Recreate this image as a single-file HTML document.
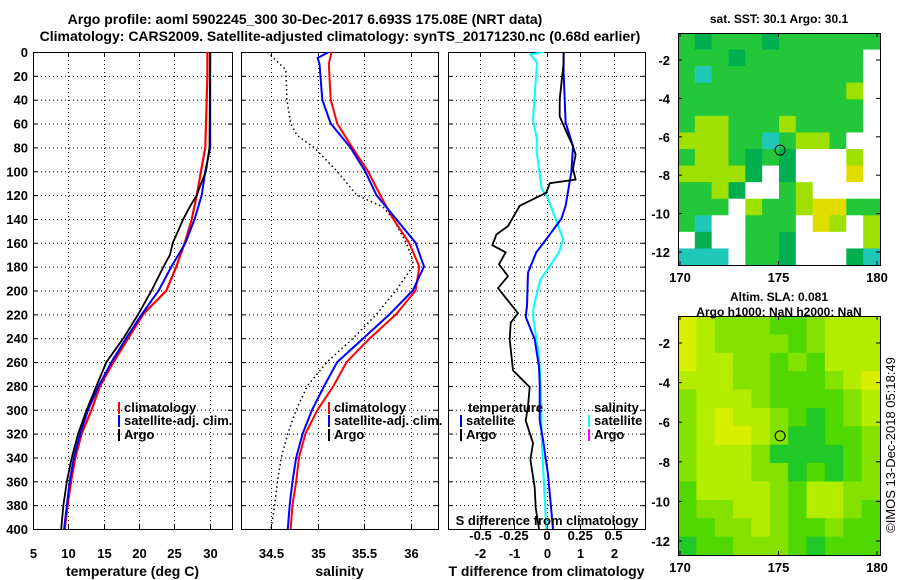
<!DOCTYPE html>
<html><head><meta charset="utf-8">
<style>
body{margin:0;background:#fff;}
svg{display:block;font-family:"Liberation Sans",Arial,sans-serif;font-weight:bold;}
</style></head>
<body>
<svg id="chart" width="900" height="580" viewBox="0 0 900 580">
<g id="layer"></g>
</svg>
<script>
// ---------- data ----------
const depths = [0,20,40,60,80,100,120,140,160,180,200,220,240,260,280,300,320,340,360,380,400];
const tempClim = [29.7,29.7,29.6,29.5,29.4,28.8,28.2,27.5,26.5,25.3,23.9,20.6,18.5,16.4,14.5,13.3,11.9,11.0,10.4,9.9,9.5];
const tempSat  = [30.1,30.1,30.1,30.1,30.1,29.4,28.9,27.9,26.6,24.6,22.8,20.4,18.2,16.1,14.3,12.8,11.7,10.8,10.2,9.8,9.4];
const tempArgoDepth = [0,80,100,112,120,130,140,160,170,180,200,220,240,260,280,300,320,340,360,380,400];
const tempArgo = [30.1,30.0,29.5,28.7,28.2,27.2,26.3,24.8,24.4,23.5,21.8,19.9,17.8,15.4,14.0,12.6,11.4,10.5,9.8,9.3,9.0];

const salClimDepth = [0,10,40,60,80,100,120,140,160,180,200,220,240,260,280,300,320,340,360,380,400];
const salClim = [35.15,35.12,35.14,35.21,35.37,35.54,35.67,35.81,35.98,36.09,36.05,35.84,35.56,35.31,35.17,35.0,34.87,34.80,34.77,34.73,34.71];
const salSatDepth = [0,5,10,40,60,80,100,120,140,160,180,200,220,240,260,280,300,320,340,360,380,400];
const salSat = [35.12,35.0,35.02,35.05,35.14,35.35,35.51,35.63,35.84,36.05,36.14,36.02,35.77,35.49,35.21,35.07,34.94,34.84,34.77,34.73,34.70,34.68];
const salArgoDepth = [0,15,40,60,70,80,100,120,130,140,160,175,180,200,220,240,260,280,300,320,340,360,380,400];
const salArgo = [34.46,34.66,34.67,34.71,34.78,34.96,35.21,35.42,35.70,35.81,35.95,36.02,36.02,35.84,35.63,35.38,35.10,34.89,34.77,34.68,34.61,34.57,34.54,34.50];

const dTArgoDepth = [0,9,40,54,70,79,86,98,107,110,118,129,146,153,162,168,178,188,198,219,227,241,267,281,297,309,328,342,365,382,400];
const dTArgo = [0.5,0.5,0.38,0.38,0.63,0.78,0.86,0.78,0.86,0.08,-0.02,-0.82,-1.17,-1.52,-1.64,-1.24,-1.44,-1.17,-1.47,-0.87,-1.09,-1.12,-1.02,-0.52,-0.57,-0.64,-0.42,-0.5,-0.37,-0.34,-0.24];
const dTSatDepth = [0,17,59,79,101,129,140,157,168,185,213,222,241,264,278,309,325,354,400];
const dTSat = [0.5,0.5,0.56,0.78,0.73,0.56,0.43,-0.02,-0.32,-0.57,-0.6,-0.64,-0.37,-0.24,-0.22,-0.22,-0.12,0.03,0.18];
const dSSatDepth = [0,2,9,57,73,82,115,121,143,157,168,191,213,222,255,283,325,400];
const dSSat = [-0.02,-0.125,-0.075,-0.105,-0.075,-0.08,-0.04,0,0.075,0.12,0.09,-0.05,-0.1,-0.105,-0.06,-0.045,-0.04,-0.005];

const depthTicks = [0,20,40,60,80,100,120,140,160,180,200,220,240,260,280,300,320,340,360,380,400];
const tempTicks = [5,10,15,20,25,30];
const salTicks = [34.5,35,35.5,36];
const dTTicks = [-2,-1,0,1,2];
const dSTicks = [-0.5,-0.25,0,0.25,0.5];
const latTicks = [-2,-4,-6,-8,-10,-12];
const lonTicks = [170,175,180];

const sstGrid = [
"gGgggGgggggg","gggGgggggggw","gcgggggggggw","ggggggggggyw","gggggggggggw",
"gyygggyggggw","yyyggcgyygww","gyygGgGwwwyw","yyyyGwGwwwYw","ggyGwwgywwww",
"gggwyggyYYgg","gcwwgggwYywy","wGwwggGwwwwy","cccwggGwwwGc"];
const slaGrid = [
"Yylllgglyyy","Yyllllglyyy","Yyyllglgyyy","yyyllggglyY","lyyylggggly","lyYyylgGgly",
"lyYYylGGggl","lyyylGGGGgl","lyyyllGgGgl","gyyyylgyyll","gllyylgyylg","ggllylgglgg","GgglllgGggg"];
const sstColors = {g:"#22c83a",G:"#00b050",y:"#9ee000",Y:"#e0dc00",w:"#ffffff",c:"#20c8b8"};
const slaColors = {Y:"#d8f000",y:"#b4ec00",l:"#84e200",g:"#50d800",G:"#20c828"};

// ---------- helpers ----------
const NS="http://www.w3.org/2000/svg";
const layer=document.getElementById('layer');
const FS=13;
function mk(tag,attrs,parent){const e=document.createElementNS(NS,tag);for(const k in attrs)e.setAttribute(k,attrs[k]);(parent||layer).appendChild(e);return e;}
function txt(x,y,s,anchor,size,parent){const t=mk('text',{x:x,y:y,'text-anchor':anchor||'middle','font-size':size||FS,fill:'#000'},parent);t.textContent=s;return t;}

const Y0=52,Y1=529;
const yD=d=>Y0+d*(Y1-Y0)/400;
const xT=v=>33+(v-5)*7.06;
const xS=v=>271+(v-34.5)*93.3;
const xDT=v=>547+v*33.3;
const xDS=v=>547+v*133;

function panel(name,x0,x1,xticks,xf,xlab,title){
  const g=mk('g',{});
  
  
  depthTicks.forEach(d=>{ if(d>0&&d<400) mk('line',{x1:x0,x2:x1,y1:yD(d)+0.5,y2:yD(d)+0.5,stroke:'#000','stroke-dasharray':'1,3','stroke-width':1},g);
    mk('line',{x1:x0,x2:x0+4,y1:yD(d)+0.5,y2:yD(d)+0.5,stroke:'#000'},g);
    mk('line',{x1:x1-4,x2:x1,y1:yD(d)+0.5,y2:yD(d)+0.5,stroke:'#000'},g);});
  xticks.forEach(v=>{const x=Math.round(xf(v))+0.5;
    mk('line',{x1:x,x2:x,y1:Y0,y2:Y1,stroke:'#000','stroke-dasharray':'1,3'},g);
    mk('line',{x1:x,x2:x,y1:Y1-4,y2:Y1,stroke:'#000'},g);
    mk('line',{x1:x,x2:x,y1:Y0,y2:Y0+4,stroke:'#000'},g);
    if(xlab) txt(x,558,String(v),'middle',FS,g);});
  mk('rect',{x:x0+0.5,y:Y0+0.5,width:x1-x0,height:Y1-Y0,fill:'none',stroke:'#000'},g);
  txt((x0+x1)/2,576,title,'middle',14,g);
  return g;
}
function line(g,ds,vs,xf,color,w,dash,name){
  const p=ds.map((d,i)=>xf(vs[i]).toFixed(1)+','+yD(d).toFixed(1)).join(' ');
  const l=mk('polyline',{points:p,fill:'none',stroke:color,'stroke-width':w});
  if(dash) l.setAttribute('stroke-dasharray',dash);
  
  
  g.appendChild(l);
}
function clipFor(id,x0,x1){const cp=mk('clipPath',{id:id});mk('rect',{x:x0,y:Y0,width:x1-x0,height:Y1-Y0},cp);}

const t1=txt(305,24,'Argo profile: aoml 5902245_300 30-Dec-2017 6.693S 175.08E (NRT data)','middle',14);


const t2=txt(340,41,'Climatology: CARS2009. Satellite-adjusted climatology: synTS_20171230.nc (0.68d earlier)','middle',14);



// panel 1
const p1=panel('temperature-panel',33,232,tempTicks,xT,true,'temperature (deg C)');
depthTicks.forEach(d=>txt(28,yD(d)+5,String(d),'end',FS,p1));
clipFor('c1',33,232);
const g1=mk('g',{'clip-path':'url(#c1)'},p1);
line(g1,depths,tempClim,xT,'#ff0000',2.2,null,'temp-climatology-line');
line(g1,depths,tempSat,xT,'#0000ff',2,null,'temp-satellite-line');
line(g1,tempArgoDepth,tempArgo,xT,'#000',1.8,null,'temp-argo-line');
function legend(g,x,y,color,label,name){
  const lg=mk('g',{},g);
  
  
  mk('rect',{x:x,y:y-10,width:2,height:12,fill:color},lg);
  txt(x+6,y,label,'start',FS,lg);
}
legend(p1,118,412,'#ff0000','climatology','legend-climatology');
legend(p1,118,425,'#0000ff','satellite-adj. clim.','legend-satellite-adj');
legend(p1,118,439,'#000','Argo','legend-argo');

// panel 2
const p2=panel('salinity-panel',241,438,salTicks,xS,true,'salinity');
clipFor('c2',241,438);
const g2=mk('g',{'clip-path':'url(#c2)'},p2);
line(g2,salArgoDepth,salArgo,xS,'#000',1.5,'1.5,3','sal-argo-line');
line(g2,salClimDepth,salClim,xS,'#ff0000',2,null,'sal-climatology-line');
line(g2,salSatDepth,salSat,xS,'#0000ff',2,null,'sal-satellite-line');
legend(p2,328,412,'#ff0000','climatology','legend-sal-climatology');
legend(p2,328,425,'#0000ff','satellite-adj. clim.','legend-sal-satellite-adj');
legend(p2,328,439,'#000','Argo','legend-sal-argo');

// panel 3
const p3=panel('difference-panel',448,645,dTTicks,xDT,true,'T difference from climatology');
clipFor('c3',448,645);
const g3=mk('g',{'clip-path':'url(#c3)'},p3);
line(g3,dSSatDepth,dSSat,xDS,'#00ffff',2,null,'sal-diff-satellite-line');
line(g3,dTSatDepth,dTSat,xDT,'#0000ff',2,null,'temp-diff-satellite-line');
line(g3,dTArgoDepth,dTArgo,xDT,'#000',1.8,null,'temp-diff-argo-line');
const st=txt(547,525,'S difference from climatology','middle',FS,p3);


dSTicks.forEach(v=>txt(xDS(v),540,String(v),'middle',FS,p3));
txt(468,412,'temperature','start',FS,p3);
txt(594,412,'salinity','start',FS,p3);
legend(p3,460,425,'#0000ff','satellite','legend-diff-temp-satellite');
legend(p3,460,439,'#000','Argo','legend-diff-temp-argo');
legend(p3,588,425,'#00ffff','satellite','legend-diff-sal-satellite');
legend(p3,588,439,'#ff00ff','Argo','legend-diff-sal-argo');

// maps
function map(name,x0,y0,x1,y1,grid,colors,titles,titleY,lat2y){
  const g=mk('g',{});
  
  
  const rows=grid.length,cols=grid[0].length;
  const cw=(x1-x0)/cols,ch=(y1-y0)/rows;
  grid.forEach((r,i)=>{for(let j=0;j<cols;j++){
    mk('rect',{x:(x0+j*cw).toFixed(2),y:(y0+i*ch).toFixed(2),width:(cw+0.5).toFixed(2),height:(ch+0.5).toFixed(2),fill:colors[r[j]]},g);
  }});
  const lon2x=v=>680+(v-170)*19.7;
  latTicks.forEach(v=>{const y=lat2y(v);txt(x0-8,y+5,String(v),'end',FS,g);
    mk('line',{x1:x0,x2:x0+4,y1:y,y2:y,stroke:'#000'},g);mk('line',{x1:x1-4,x2:x1,y1:y,y2:y,stroke:'#000'},g);});
  lonTicks.forEach(v=>{const x=lon2x(v);txt(x,y1+17,String(v),'middle',FS,g);
    mk('line',{x1:x,x2:x,y1:y1-4,y2:y1,stroke:'#000'},g);mk('line',{x1:x,x2:x,y1:y0,y2:y0+4,stroke:'#000'},g);});
  mk('rect',{x:x0+0.5,y:y0+0.5,width:x1-x0,height:y1-y0,fill:'none',stroke:'#000'},g);
  const c=mk('circle',{cx:lon2x(175.08),cy:lat2y(-6.693),r:5,fill:'none',stroke:'#000','stroke-width':1},g);
  
  
  titles.forEach((t,i)=>txt((x0+x1)/2,titleY+i*15,t,'middle',12,g));
}
map('sst-map',678,33,880,265,sstGrid,sstColors,['sat. SST: 30.1 Argo: 30.1'],23,v=>60+(-2-v)*19.2);
map('sla-map',678,316,880,555,slaGrid,slaColors,['Altim. SLA: 0.081','Argo h1000: NaN h2000: NaN'],301,v=>343+(-2-v)*19.8);

const cr=txt(0,0,'©IMOS 13-Dec-2018 05:18:49','middle',13);
cr.setAttribute('transform','translate(895,445) rotate(-90)');
cr.setAttribute('font-weight','normal');


</script>
</body></html>
